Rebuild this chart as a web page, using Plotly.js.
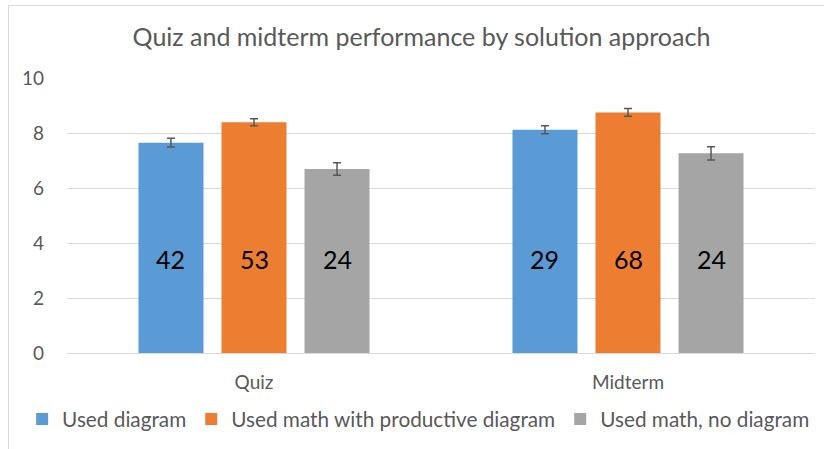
<!DOCTYPE html>
<html>
<head>
<meta charset="utf-8">
<script src="https://cdn.plot.ly/plotly-3.0.1.min.js"></script>
<style>
html,body{margin:0;padding:0;background:#fff;}
#chart{width:824px;height:449px;position:absolute;left:0;top:0;}
#frame{position:absolute;left:8px;top:5px;width:900px;height:500px;border-left:1px solid #d9d9d9;border-top:1px solid #d9d9d9;pointer-events:none;}
</style>
</head>
<body>
<div id="chart"></div>
<div id="frame"></div>
<script>
const categories = ["Quiz", "Midterm"];
const seriesNames = ["Used diagram", "Used math with productive diagram", "Used math, no diagram"];
const usedDiagram = [7.65, 8.12];
const usedMathProductive = [8.39, 8.75];
const usedMathNoDiagram = [6.69, 7.26];
const errDiagram = [0.16, 0.145];
const errMathProductive = [0.13, 0.145];
const errMathNoDiagram = [0.23, 0.24];
const countDiagram = [42, 29];
const countMathProductive = [53, 68];
const countMathNoDiagram = [24, 24];
const labelY = 3.42;

const colors = ["#5B9BD5", "#ED7D31", "#A5A5A5"];
const values = [usedDiagram, usedMathProductive, usedMathNoDiagram];
const errors = [errDiagram, errMathProductive, errMathNoDiagram];
const counts = [countDiagram, countMathProductive, countMathNoDiagram];

const font = "Lato, Carlito, 'Open Sans', sans-serif";

const traces = values.map((v, i) => ({
  type: "bar",
  name: seriesNames[i],
  x: categories,
  y: v,
  marker: {color: colors[i]},
  error_y: {type: "data", array: errors[i], visible: true, color: "#595959", thickness: 1.5, width: 4},
  hoverinfo: "skip"
}));

const bargap = 0.334;
const marginL = 67, marginR = 9;
const plotW = 824 - marginL - marginR;
const slot = plotW / categories.length * (1 - bargap) / values.length;

const annotations = [];
counts.forEach((c, i) => {
  c.forEach((n, j) => {
    annotations.push({
      x: categories[j], y: labelY, xref: "x", yref: "y",
      text: String(n), showarrow: false,
      xshift: (i - 1) * slot,
      font: {family: font, size: 25, color: "#000000"}
    });
  });
});

const layout = {
  width: 824, height: 449,
  margin: {l: marginL, r: marginR, t: 78, b: 96, autoexpand: false},
  paper_bgcolor: "#ffffff", plot_bgcolor: "#ffffff",
  font: {family: font, color: "#595959"},
  title: {text: "Quiz and midterm performance by solution approach", xref: "container", x: 0.5115, xanchor: "center", yref: "container", y: 0.917, yanchor: "middle", font: {family: font, size: 25, color: "#595959"}},
  barmode: "group",
  bargap: bargap,
  bargroupgap: 0.217,
  xaxis: {
    type: "category",
    showgrid: false,
    showline: true, linecolor: "#d9d9d9", linewidth: 1,
    ticks: "", ticklabelstandoff: 12,
    tickfont: {family: font, size: 19, color: "#595959"},
    fixedrange: true
  },
  yaxis: {
    range: [0, 10], dtick: 2, tick0: 0,
    showgrid: true, gridcolor: "#d9d9d9", gridwidth: 1,
    zeroline: false, showline: false, ticks: "",
    ticklabelstandoff: 22,
    tickfont: {family: font, size: 19, color: "#595959"},
    fixedrange: true
  },
  showlegend: true,
  legend: {
    orientation: "h",
    x: -0.06, xanchor: "left", y: -0.24, yanchor: "middle",
    bgcolor: "rgba(0,0,0,0)",
    font: {family: font, size: 20.75, color: "#595959"},
    itemwidth: 30, traceorder: "normal"
  },
  annotations: annotations
};

Plotly.newPlot("chart", traces, layout, {displayModeBar: false, staticPlot: true});
</script>
</body>
</html>
